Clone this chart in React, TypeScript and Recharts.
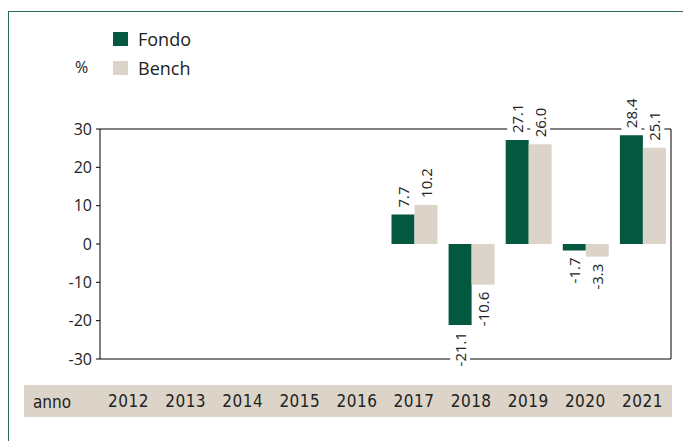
import React from "react";
import {
  BarChart,
  Bar,
  XAxis,
  YAxis,
  CartesianGrid,
  LabelList,
} from "recharts";

const YEARS = ["2012", "2013", "2014", "2015", "2016", "2017", "2018", "2019", "2020", "2021"];
const FONDO = [null, null, null, null, null, 7.7, -21.1, 27.1, -1.7, 28.4];
const BENCH = [null, null, null, null, null, 10.2, -10.6, 26.0, -3.3, 25.1];
const SERIES = ["Fondo", "Bench"];
const Y_TICKS = [-30, -20, -10, 0, 10, 20, 30];

const GREEN = "#04583f";
const BEIGE = "#dcd4c8";
const COLORS = [GREEN, BEIGE];
const FONT = "'Open Sans', 'Noto Sans', sans-serif";
const NARROW = "'Liberation Sans Narrow', 'DejaVu Sans Condensed', 'Open Sans', sans-serif";

const data = YEARS.map((year, i) => ({
  year,
  fondo: FONDO[i],
  bench: BENCH[i],
}));

// rough text length for the rotated labels
const textLen = (s: string) => {
  let w = 0;
  for (const c of s) w += c === "." ? 4 : c === "-" ? 5 : 8.5;
  return w;
};

const BarValue = (props: any) => {
  const { x, y, width, height, value } = props;
  if (value == null) return null;
  const cx = x + width / 2;
  const top = Math.min(y, y + height);
  const bottom = Math.max(y, y + height);
  const txt = Number(value).toFixed(1);
  const len = textLen(txt);
  const neg = value < 0;
  const anchorY = neg ? bottom + 7 : top - 7;
  const rectY = neg ? anchorY - 2 : anchorY - len - 2;
  return (
    <g>
      <rect x={cx - 10} y={rectY} width={20} height={len + 4} fill="#fff" />
      <text
        transform={`translate(${cx},${anchorY}) rotate(-90)`}
        textAnchor={neg ? "end" : "start"}
        dominantBaseline="central"
        fontSize={15}
        fontFamily={FONT}
        fill="#222"
      >
        {txt}
      </text>
    </g>
  );
};

const YearTick = (props: any) => {
  const { x, y, payload } = props;
  return (
    <text
      x={x}
      y={y + 34}
      textAnchor="middle"
      dominantBaseline="central"
      fontSize={17}
      fontFamily={NARROW}
      fontWeight={300}
      letterSpacing={0.5}
      fill="#222"
    >
      {payload.value}
    </text>
  );
};

export default function App() {
  return (
    <div style={{ position: "absolute", left: 0, top: 0, width: 683, height: 441, background: "#fff", overflow: "hidden" }}>
      {/* frame */}
      <div style={{ position: "absolute", left: 8, top: 11, width: 675, height: 430, borderLeft: "1.5px solid #2a6a52", borderTop: "1.5px solid #2a6a52" }} />

      {/* year band */}
      <div style={{ position: "absolute", left: 24, top: 385, width: 648, height: 32, background: BEIGE }} />
      <div style={{ position: "absolute", left: 33, top: 386, height: 32, lineHeight: "32px", fontFamily: NARROW, fontSize: 17, color: "#222" }}>
        anno
      </div>

      <div style={{ position: "absolute", left: 75, top: 56, fontFamily: FONT, fontSize: 16, color: "#222" }}>%</div>

      {/* legend */}
      <div style={{ position: "absolute", left: 113, top: 24 }}>
        {SERIES.map((name, i) => (
          <div
            key={name}
            style={{ display: "flex", alignItems: "center", height: 29, fontFamily: FONT, fontSize: 18, color: "#222" }}
          >
            <span style={{ display: "inline-block", width: 15, height: 14, background: COLORS[i], marginRight: 10 }} />
            {name}
          </div>
        ))}
      </div>

      <div style={{ position: "absolute", left: 0, top: 0 }}>
        <BarChart
          width={683}
          height={441}
          data={data}
          margin={{ top: 129, right: 0, bottom: 0, left: 60 }}
          barCategoryGap="10.5%"
          barGap={0}
        >
          <CartesianGrid vertical={false} stroke="#000" strokeOpacity={1} />
          <XAxis dataKey="year" height={82} axisLine={false} tickLine={false} tick={<YearTick />} interval={0} />
          <YAxis
            yAxisId="left"
            width={40}
            domain={[-30, 30]}
            ticks={Y_TICKS}
            tickSize={4}
            tickMargin={4}
            axisLine={{ stroke: "#000" }}
            tickLine={{ stroke: "#000" }}
            tick={{ fontSize: 16, fontFamily: FONT, fill: "#222" }}
          />
          <YAxis
            yAxisId="right"
            orientation="right"
            width={12}
            domain={[-30, 30]}
            ticks={Y_TICKS}
            tick={false}
            tickLine={false}
            axisLine={{ stroke: "#000" }}
          />
          <Bar yAxisId="left" dataKey="fondo" name={SERIES[0]} fill={GREEN} isAnimationActive={false}>
            <LabelList dataKey="fondo" content={<BarValue />} />
          </Bar>
          <Bar yAxisId="left" dataKey="bench" name={SERIES[1]} fill={BEIGE} isAnimationActive={false}>
            <LabelList dataKey="bench" content={<BarValue />} />
          </Bar>
        </BarChart>
      </div>
    </div>
  );
}
